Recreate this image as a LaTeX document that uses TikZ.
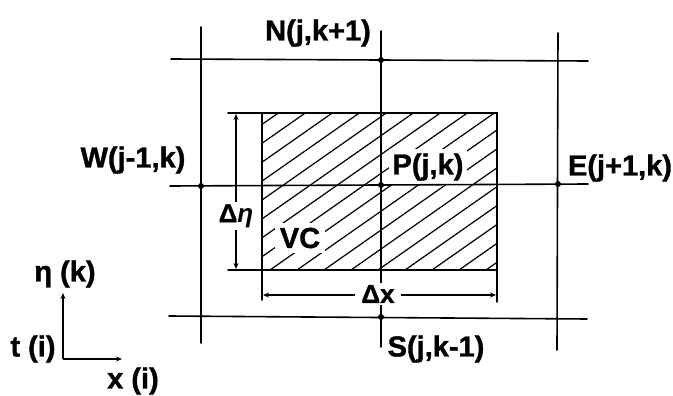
\documentclass[tikz,border=0pt]{standalone}
\usepackage{fontspec}
\setmainfont{Liberation Sans}[BoldFeatures={FakeBold=1.2}]
\usetikzlibrary{arrows.meta}
\tikzset{
  gridline/.style={line width=1.6pt, line cap=round},
  hatchline/.style={line width=1.2pt},
  lab/.style={font=\fontsize{29}{34}\selectfont\bfseries, inner sep=1pt},
  smalllab/.style={font=\fontsize{26}{30}\selectfont\bfseries, inner sep=2pt, fill=white},
  dotmark/.style={circle, fill=black, inner sep=0pt, minimum size=6pt},
  dimarrow/.style={line width=1.3pt, {Stealth[length=6pt,width=5pt]}-{Stealth[length=6pt,width=5pt]}},
  axarrow/.style={line width=1.6pt, -{Stealth[length=6pt,width=5pt]}}
}
\begin{document}
\begin{tikzpicture}[x=1pt, y={(0,-1pt)}]
\useasboundingbox (0,0) rectangle (673,396);
% hatching of control volume
\begin{scope}
  \clip (262,113) rectangle (497,270);
  \foreach \k in {-1,...,17}{
    \draw[hatchline] (54+27*\k,270) -- ++(300,-210);
  }
\end{scope}
% labels with white background inside the volume
\node[lab, fill=white, inner sep=5pt] (vc) at (300,238) {VC};
\node[lab, fill=white, inner sep=4pt] (plab) at (428,167) {P(j,k)};
% control volume border
\coordinate (r1) at (262,113);
\coordinate (r2) at (497,113);
\coordinate (r3) at (497,270);
\coordinate (r4) at (262,270);
\coordinate (r1e) at (228,113);
\coordinate (r4e) at (228,270);
\coordinate (r4d) at (262,300);
\coordinate (r3d) at (497,302);
\draw[gridline] (r1e) -- (r2) -- (r3) -- (r4e);
\draw[gridline] (r1) -- (r4d);
\draw[gridline] (r3) -- (r3d);
% grid lines
\coordinate (v1t) at (201,27);  \coordinate (v1b) at (201,343);
\coordinate (v2t) at (381,31);  \coordinate (v2b) at (381,347);
\coordinate (v3t) at (558,33);  \coordinate (v3b) at (557,350);
\coordinate (h1l) at (171,59);  \coordinate (h1r) at (588,61);
\coordinate (h2l) at (170,186); \coordinate (h2r) at (588,184);
\coordinate (h3l) at (169,316); \coordinate (h3r) at (587,319);
\draw[gridline] (v1t) -- (v1b);
\draw[gridline] (v2t) -- (v2b);
\draw[gridline] (v3t) -- (v3b);
\draw[gridline] (h1l) -- (h1r);
\draw[gridline] (h2l) -- (h2r);
\draw[gridline] (h3l) -- (h3r);
% nodes of the grid
\node[dotmark] (N) at (381,60) {};
\node[dotmark] (W) at (201,186) {};
\node[dotmark] (P) at (381,185) {};
\node[dotmark] (E) at (558,184) {};
\node[dotmark] (S) at (381,317) {};
% labels
\node[lab] (nlab) at (318,33) {N(j,k+1)};
\node[lab] (wlab) at (133,160) {W(j-1,k)};
\node[lab] (elab) at (620,168) {E(j+1,k)};
\node[lab] (slab) at (436,349) {S(j,k-1)};
% dimensions
\draw[dimarrow] (236,114) -- (236,269);
\node[smalllab] (deta) at (236,216) {Δ\textit{η}};
\draw[dimarrow] (263,295) -- (496,295);
\node[smalllab, inner xsep=6pt] (dx) at (378,294) {Δx};
% axes
\coordinate (o) at (63,359);
\coordinate (ay) at (63,293);
\coordinate (ax) at (122,359);
\draw[axarrow] (o) -- (ay);
\draw[axarrow] (o) -- (ax);
\node[lab] (etak) at (65,274) {η (k)};
\node[lab] (ti) at (33,349) {t (i)};
\node[lab] (xi) at (133,381) {x (i)};
\end{tikzpicture}
\end{document}
